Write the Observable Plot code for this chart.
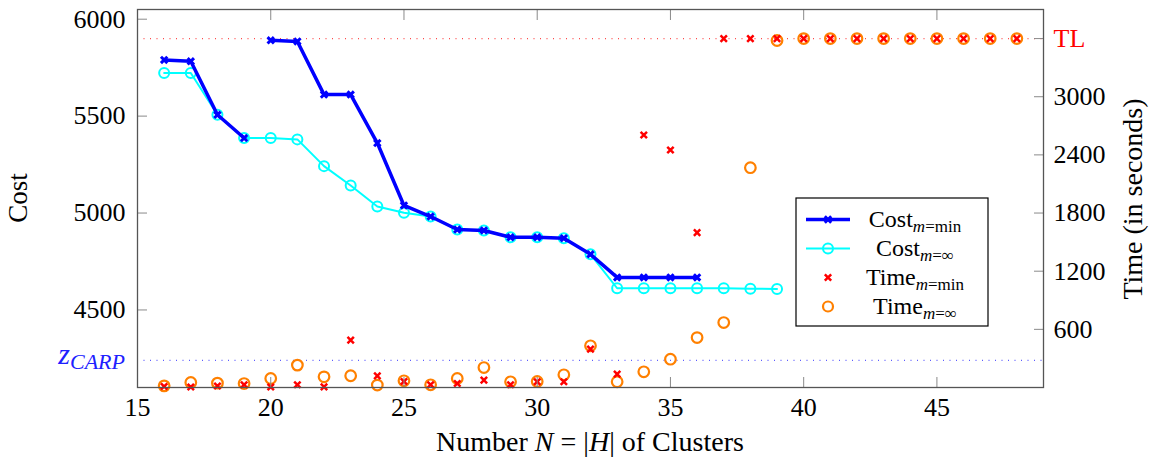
<!DOCTYPE html>
<html><head><meta charset="utf-8">
<script src="https://cdn.jsdelivr.net/npm/d3@7"></script>
<script src="https://cdn.jsdelivr.net/npm/@observablehq/plot@0.6"></script>
<style>body{margin:0;background:#fff;} svg{display:block;}</style>
</head><body><div id="chart"></div>
<script>
// ---- data ----
const clustersMin = [16,17,18,19,20,21,22,23,24,25,26,27,28,29,30,31,32,33,34,35,36];
const costMin = [5790,5783,5507,5387,5891,5885,5611,5611,5361,5039,4982,4915,4910,4875,4875,4870,4787,4668,4668,4668,4668];
const costMinRun = [1,1,1,1,2,2,2,2,2,2,2,2,2,2,2,2,2,2,2,2,2]; // line is broken between 19 and 20
const clustersInf = [16,17,18,19,20,21,22,23,24,25,26,27,28,29,30,31,32,33,34,35,36,37,38,39];
const costInf = [5722,5722,5507,5387,5387,5380,5242,5142,5034,5001,4982,4915,4910,4875,4875,4870,4787,4612,4612,4612,4612,4612,4610,4608];
const clustersTime = [16,17,18,19,20,21,22,23,24,25,26,27,28,29,30,31,32,33,34,35,36,37,38,39,40,41,42,43,44,45,46,47,48];
const timeMin = [10,5,15,28,5,28,7,489,120,62,28,41,76,28,59,59,396,138,2605,2450,1598,3600,3600,3600,3600,3600,3600,3600,3600,3600,3600,3600,3600];
const timeInf = [17,52,45,41,93,231,110,121,25,69,28,93,206,59,62,131,430,59,162,292,515,670,2268,3580,3600,3600,3600,3600,3600,3600,3600,3600,3600];
const xTicks = [15,20,25,30,35,40,45];
const costTicks = [4500,5000,5500,6000];
const timeTicks = [600,1200,1800,2400,3000];
const timeLimit = 3600;
const zCARP = 4240;
const costDomain = [4100, 6050];
const timeDomain = [0, 3900];

// map time onto the cost scale (secondary axis)
const k = (costDomain[1]-costDomain[0])/(timeDomain[1]-timeDomain[0]);
const tToC = t => costDomain[0] + (t - timeDomain[0]) * k;
const cToT = c => timeDomain[0] + (c - costDomain[0]) / k;

const minData = clustersMin.map((n,i) => ({n, c: costMin[i], run: costMinRun[i]}));
const infData = clustersInf.map((n,i) => ({n, c: costInf[i]}));
const tMinData = clustersTime.map((n,i) => ({n, t: timeMin[i]}));
const tInfData = clustersTime.map((n,i) => ({n, t: timeInf[i]}));

const font = "'Liberation Serif', 'DejaVu Serif', serif";
const tickColor = "#8a8a8a";
const chart = Plot.plot({
  width: 1153, height: 458,
  marginLeft: 137, marginRight: 110, marginTop: 9, marginBottom: 71,
  style: {fontFamily: font, fontSize: "26px", color: "black", background: "white"},
  x: {domain: [15, 49]},
  y: {domain: costDomain},
  marks: [
    Plot.ruleY([zCARP], {stroke: "#5c5cff", strokeDasharray: "1 5.5", strokeWidth: 1.2}),
    Plot.ruleY([tToC(timeLimit)], {stroke: "#ff4a4a", strokeDasharray: "1 5.5", strokeWidth: 1.2}),
    Plot.line(infData, {x: "n", y: "c", stroke: "#00ffff", strokeWidth: 2}),
    Plot.dot(infData, {x: "n", y: "c", r: 5, stroke: "#00ffff", strokeWidth: 2}),
    Plot.line(minData, {x: "n", y: "c", z: "run", stroke: "#0000ff", strokeWidth: 3.5}),
    Plot.dot(minData, {x: "n", y: "c", symbol: "times", r: 3, stroke: "#0000ff", strokeWidth: 3}),
    Plot.dot(tInfData, {x: "n", y: d => tToC(d.t), r: 5.3, stroke: "#ff8000", strokeWidth: 2.2}),
    Plot.dot(tMinData, {x: "n", y: d => tToC(d.t), symbol: "times", r: 3, stroke: "#ff0000", strokeWidth: 2.5}),
    // axes: labels
    Plot.axisX(xTicks, {anchor: "bottom", tickSize: 0, tickPadding: 10, label: null, tickFormat: d => String(d)}),
    Plot.axisY(costTicks, {anchor: "left", tickSize: 0, tickPadding: 12, label: null, tickFormat: d => String(d)}),
    Plot.axisY(timeTicks.map(tToC), {anchor: "right", tickSize: 0, tickPadding: 10, label: null, tickFormat: c => String(Math.round(cToT(c)))}),
    Plot.axisY([tToC(timeLimit)], {anchor: "right", tickSize: 0, tickPadding: 10, label: null, tickFormat: () => "TL", fill: "#ff0000"}),
    // axes: inward ticks
    Plot.axisX(xTicks, {anchor: "bottom", tickSize: -10, fill: "none", stroke: tickColor, label: null}),
    Plot.axisX(xTicks, {anchor: "top", tickSize: -10, fill: "none", stroke: tickColor, label: null}),
    Plot.axisY(costTicks, {anchor: "left", tickSize: -10, fill: "none", stroke: tickColor, label: null}),
    Plot.axisY([...timeTicks, timeLimit].map(tToC), {anchor: "right", tickSize: -10, fill: "none", stroke: tickColor, label: null}),
    Plot.frame({stroke: "#555", strokeWidth: 1.3})
  ]
});
document.getElementById("chart").append(chart);

// ---- extra texts (with sub/italic parts) ----
const svg = d3.select(chart);
const y = chart.scale("y"), x = chart.scale("x");
function rich(parent, parts, attrs) {
  const t = parent.append("text").attr("font-family", font);
  for (const [a, v] of Object.entries(attrs)) t.attr(a, v);
  for (const p of parts) {
    const s = t.append("tspan").text(p.text);
    if (p.italic) s.attr("font-style", "italic");
    if (p.size) s.attr("font-size", p.size);
    if (p.dy) s.attr("dy", p.dy);
  }
  return t;
}
// z_CARP label
rich(svg, [{text: "z", italic: true, size: 30}, {text: "CARP", italic: true, size: 22, dy: 5}],
  {x: 125, y: y.apply(zCARP) + 4, "text-anchor": "end", fill: "#2020ff"});
// axis titles
rich(svg, [{text: "Cost", size: 27}], {transform: `translate(21,198) rotate(-90)`, "text-anchor": "middle", "dominant-baseline": "middle", fill: "black"});
rich(svg, [{text: "Time (in seconds)", size: 28}], {transform: `translate(1136,199) rotate(-90)`, "text-anchor": "middle", "dominant-baseline": "middle", fill: "black"});
rich(svg, [{text: "Number ", size: 28}, {text: "N", italic: true, size: 28}, {text: " = |", size: 28}, {text: "H", italic: true, size: 28}, {text: "| of Clusters", size: 28}],
  {x: (x.range[0] + x.range[1]) / 2, y: 451, "text-anchor": "middle", fill: "black"});

// ---- legend ----
const lg = svg.append("g");
lg.append("rect").attr("x", 796).attr("y", 198).attr("width", 192).attr("height", 128).attr("fill", "white").attr("stroke", "black").attr("stroke-width", 1.2);
const entries = [
  {main: "Cost", sub: [["m", true], ["=min", false]], line: "#0000ff", lw: 3.5, mk: "x", mc: "#0000ff", mw: 3},
  {main: "Cost", sub: [["m", true], ["=∞", false]], line: "#00ffff", lw: 2, mk: "o", mc: "#00ffff", mw: 2},
  {main: "Time", sub: [["m", true], ["=min", false]], line: null, mk: "x", mc: "#ff0000", mw: 2.5},
  {main: "Time", sub: [["m", true], ["=∞", false]], line: null, mk: "o", mc: "#ff8000", mw: 2.2}
];
const rowsY = [219.5, 248.5, 277.5, 306.5];
entries.forEach((e, i) => {
  const cy = rowsY[i], cx = 828;
  if (e.line) lg.append("line").attr("x1", 806).attr("x2", 850).attr("y1", cy).attr("y2", cy).attr("stroke", e.line).attr("stroke-width", e.lw);
  if (e.mk === "x") {
    const r = 3.2;
    lg.append("path").attr("d", `M${cx-r},${cy-r}L${cx+r},${cy+r}M${cx-r},${cy+r}L${cx+r},${cy-r}`).attr("stroke", e.mc).attr("stroke-width", e.mw).attr("fill", "none");
  } else {
    lg.append("circle").attr("cx", cx).attr("cy", cy).attr("r", 5).attr("stroke", e.mc).attr("stroke-width", e.mw).attr("fill", "none");
  }
  const t = lg.append("text").attr("font-family", font).attr("x", 915).attr("y", cy + 7).attr("text-anchor", "middle").attr("fill", "black");
  t.append("tspan").attr("font-size", 24).text(e.main);
  t.append("tspan").attr("font-size", 17).attr("font-style", "italic").attr("dy", 5).text(e.sub[0][0]);
  t.append("tspan").attr("font-size", 17).text(e.sub[1][0]);
});
</script>
</body></html>
